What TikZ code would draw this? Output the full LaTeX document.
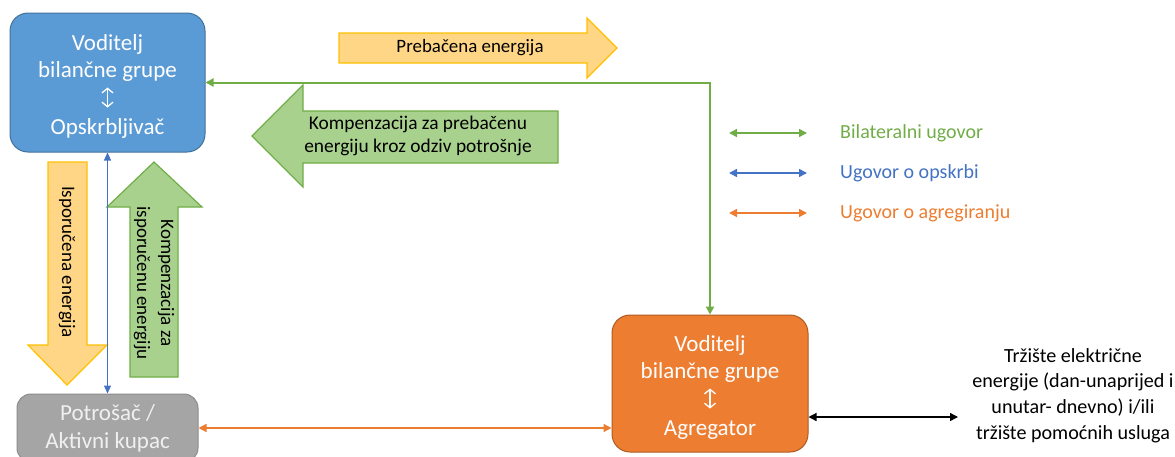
\documentclass[tikz,border=0pt]{standalone}
\usepackage{fontspec}
\setmainfont{Carlito}
\usetikzlibrary{arrows.meta}
\definecolor{bfill}{HTML}{5B9BD5}
\definecolor{bline}{HTML}{41719C}
\definecolor{ofill}{HTML}{ED7D31}
\definecolor{oline}{HTML}{AE5A21}
\definecolor{gfill}{HTML}{A5A5A5}
\definecolor{gline}{HTML}{8C8C8C}
\definecolor{grfill}{HTML}{A9D18E}
\definecolor{grline}{HTML}{70AD47}
\definecolor{yfill}{HTML}{FFD685}
\definecolor{yline}{HTML}{FFC000}
\definecolor{cblue}{HTML}{4472C4}
\definecolor{corange}{HTML}{ED7D31}
\definecolor{cgreen}{HTML}{70AD47}
\definecolor{gtext}{HTML}{F0F0F0}
\newcommand{\updn}{\tikz[baseline=0pt]\draw[white,line width=1.3pt,{Straight Barb[length=4.5pt,width=11pt]}-{Straight Barb[length=4.5pt,width=11pt]}] (0pt,-3pt)--(0pt,17pt);}
\begin{document}
\begin{tikzpicture}[x=1pt,y=-1pt,
  box/.style={rounded corners=18pt,line width=1pt,align=center,inner sep=0pt,
     font=\fontsize{23}{27}\selectfont},
  blockarrow/.style={line width=1.2pt,line join=miter},
  conn/.style={line width=1.5pt,{Triangle[length=8pt,width=8pt]}-{Triangle[length=8pt,width=8pt]}},
  lbl/.style={inner sep=0pt,align=center}]
\useasboundingbox (0,0) rectangle (1175,456);
\clip (0,0) rectangle (1175,456);

% block arrows
\draw[blockarrow,fill=yfill,draw=yline] (339,33) -- (587,33) -- (587,18) -- (617,48) -- (587,78) -- (587,63) -- (339,63) -- cycle;
\draw[blockarrow,fill=grfill,draw=grline] (558,111) -- (303,111) -- (303,85) -- (252,136) -- (303,187) -- (303,163) -- (558,163) -- cycle;
\draw[blockarrow,fill=yfill,draw=yline] (48,162) -- (87,162) -- (87,345) -- (107,345) -- (67,385) -- (28,345) -- (48,345) -- cycle;
\draw[blockarrow,fill=grfill,draw=grline] (130,377) -- (130,207) -- (107,207) -- (154,162) -- (202,207) -- (178,207) -- (178,377) -- cycle;

\node[lbl,font=\fontsize{18.9}{22}\selectfont] (tprev) at (470,48) {Prebačena energija};
\node[lbl,font=\fontsize{19.4}{23}\selectfont] (tkomp) at (418,136) {Kompenzacija za prebačenu\\energiju kroz odziv potrošnje};
\node[lbl,rotate=-90,font=\fontsize{19}{23}\selectfont] (tisp) at (67,262) {Isporučena energija};
\node[lbl,rotate=-90,font=\fontsize{19}{24}\selectfont] (tkisp) at (154,283) {Kompenzacija za\\isporučenu energiju};

% boxes
\node[box,fill=bfill,draw=bline,text=white,minimum width=195pt,minimum height=139pt] (bvb) at (107.5,82.5)
  {\rule{0pt}{24pt}Voditelj\\bilančne grupe\\\updn\\[3pt]Opskrbljivač};
\node[box,fill=ofill,draw=oline,text=white,minimum width=196pt,minimum height=137pt] (agg) at (710,383.5)
  {\rule{0pt}{24pt}Voditelj\\bilančne grupe\\\updn\\[3pt]Agregator};
\node[box,fill=gfill,draw=gline,text=gtext,rounded corners=14pt,minimum width=181pt,minimum height=68pt,font=\fontsize{23}{28}\selectfont] (pot) at (107.5,428)
  {Potrošač /\\Aktivni kupac};

\node[lbl,font=\fontsize{20.1}{25.7}\selectfont] (mkt) at (1073,395.5)
  {Tržište električne\\energije (dan-unaprijed i\\unutar- dnevno) i/ili\\tržište pomoćnih usluga};

% connectors
\draw[conn,cgreen,line width=2pt] (bvb.east) -| (agg.north);
\draw[conn,cblue,line width=1.1pt,{Triangle[length=8pt,width=7pt]}-{Triangle[length=8pt,width=7pt]}] (bvb.south) -- (pot.north);
\draw[conn,corange] (pot.east) -- (agg.west |- pot.east);
\coordinate (blk) at (0,417);
\coordinate (mktend) at (958,417);
\draw[conn,black,line width=1.3pt] (agg.east |- blk) -- (mktend);

% legend
\foreach \n/\yy/\col/\txt in {a/133/cgreen/Bilateralni ugovor, b/173/cblue/Ugovor o opskrbi, c/213/corange/Ugovor o agregiranju}{
  \coordinate (l\n1) at (729,\yy);
  \coordinate (l\n2) at (807,\yy);
  \draw[conn,\col,line width=1.5pt] (l\n1) -- (l\n2);
  \node[lbl,anchor=west,text=\col,font=\fontsize{20}{24}\selectfont] (t\n) at (840,\yy) {\txt};
}
\end{tikzpicture}
\end{document}
